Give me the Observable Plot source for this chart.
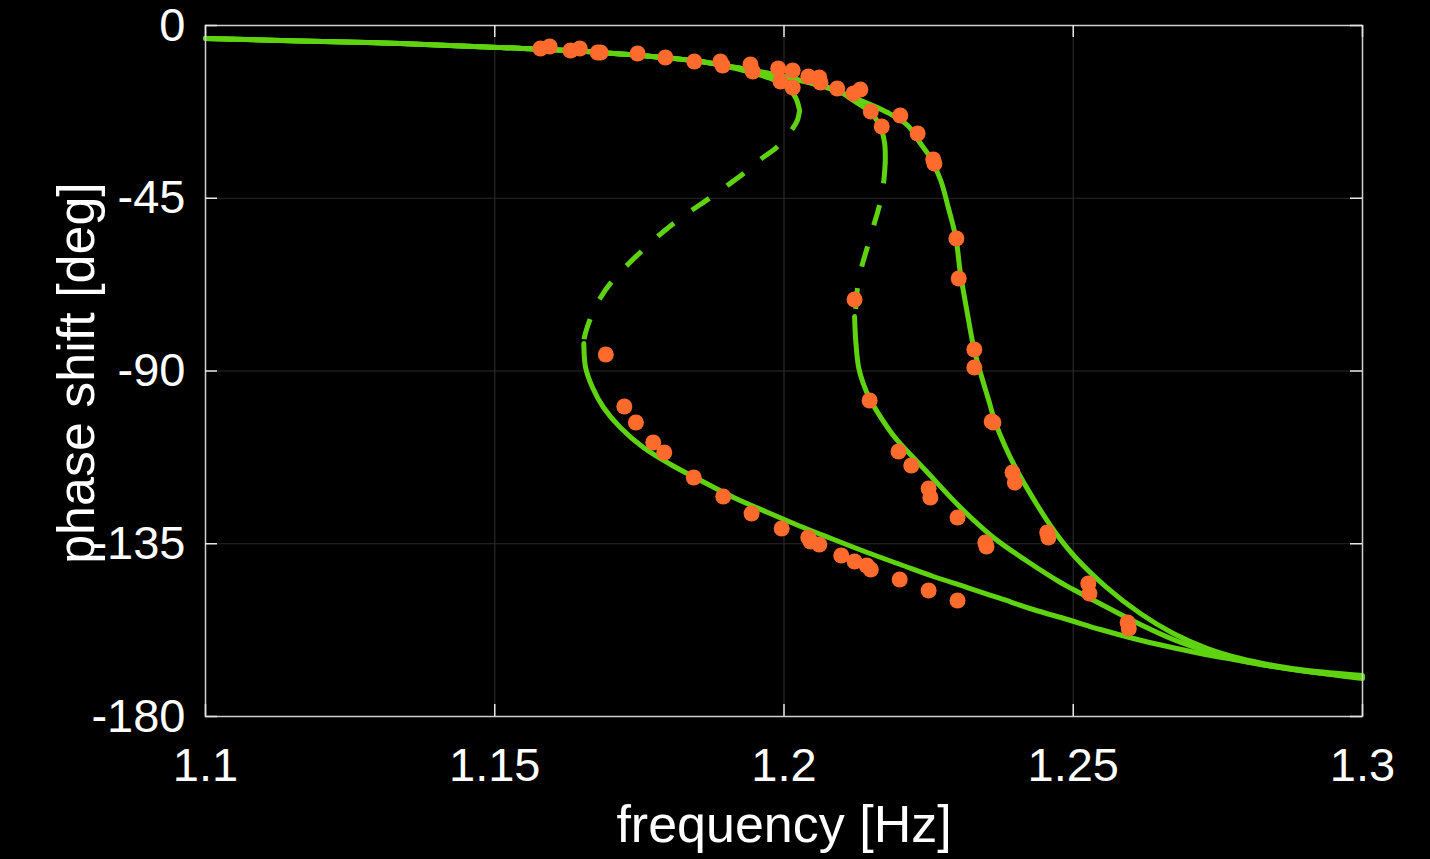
<!DOCTYPE html>
<html>
<head>
<meta charset="utf-8">
<script src="https://cdn.jsdelivr.net/npm/d3@7"></script>
<script src="https://cdn.jsdelivr.net/npm/@observablehq/plot@0.6"></script>
<style>
  html, body { margin: 0; padding: 0; background: #000; }
  #chart { width: 1430px; height: 859px; }
</style>
</head>
<body>
<div id="chart"></div>
<script>
// Phase response of a driven nonlinear oscillator at three forcing levels.
// Each model curve: [frequency (Hz), phase shift (deg)].

const xTicks = [1.1, 1.15, 1.2, 1.25, 1.3];
const yTicks = [0, -45, -90, -135, -180];

// Low-frequency part common to all three model curves
const commonStart = [
  [1.1000, -3.39], [1.1164, -4.04], [1.1337, -4.69], [1.1510, -5.73],
  [1.1683, -7.03], [1.1856, -9.38], [1.1890, -10.29]
];

// Curve 1 (strongest forcing): upper stable branch, unstable branch, lower stable branch
const curve1Upper = [
  [1.1937, -11.98], [1.1977, -13.81], [1.2006, -16.15], [1.2020, -18.76], [1.2027, -22.14]
];
const curve1Unstable = [
  [1.2027, -22.14], [1.2023, -24.75], [1.2015, -26.83], [1.1989, -31.52], [1.1959, -34.91],
  [1.1930, -38.55], [1.1902, -41.68], [1.1873, -44.80], [1.1809, -51.58], [1.1755, -58.61],
  [1.1704, -66.43], [1.1683, -70.85], [1.1666, -76.06], [1.1655, -81.27], [1.1654, -82.84]
];
const curve1Lower = [
  [1.1654, -82.84], [1.1657, -89.09], [1.1669, -94.30], [1.1688, -99.51], [1.1717, -104.72],
  [1.1757, -109.93], [1.1804, -114.36], [1.1856, -118.52], [1.1913, -122.95], [1.1972, -126.86],
  [1.2029, -130.51], [1.2086, -133.89], [1.2144, -137.28], [1.2201, -140.41], [1.2258, -143.53],
  [1.2317, -146.40], [1.2374, -149.26], [1.2431, -152.13], [1.2490, -154.73], [1.2547, -157.34],
  [1.2604, -159.68], [1.2663, -161.77], [1.2720, -163.59], [1.2777, -165.15], [1.2836, -166.71],
  [1.2893, -168.02], [1.3000, -170.10]
];

// Curve 2 (medium forcing)
const curve2Upper = [
  [1.1947, -11.72], [1.2006, -13.55], [1.2063, -15.63], [1.2093, -16.93], [1.2120, -19.54],
  [1.2150, -22.66], [1.2167, -26.57], [1.2174, -30.74], [1.2175, -35.69]
];
const curve2Unstable = [
  [1.2175, -35.69], [1.2172, -41.16], [1.2165, -46.89], [1.2155, -52.10], [1.2144, -57.83],
  [1.2134, -63.04], [1.2127, -68.51], [1.2124, -73.72], [1.2122, -75.80]
];
const curve2Lower = [
  [1.2122, -75.80], [1.2124, -82.06], [1.2129, -89.09], [1.2137, -93.26], [1.2148, -97.16],
  [1.2179, -104.72], [1.2196, -108.10], [1.2248, -116.44], [1.2305, -125.56], [1.2362, -133.37],
  [1.2421, -139.62], [1.2478, -145.09], [1.2500, -146.92], [1.2559, -151.61], [1.2616, -156.03],
  [1.2673, -159.94], [1.2732, -163.07], [1.2789, -165.41], [1.2846, -166.98], [1.2905, -168.28],
  [1.3000, -169.84]
];

// Curve 3 (weakest forcing, single valued)
const curve3 = [
  [1.1947, -11.72], [1.2006, -13.55], [1.2063, -15.63], [1.2120, -18.76], [1.2179, -22.66],
  [1.2214, -26.05], [1.2236, -30.74], [1.2253, -34.39], [1.2271, -40.38], [1.2284, -47.41],
  [1.2297, -55.23], [1.2305, -64.60], [1.2317, -75.02], [1.2328, -83.88], [1.2340, -90.65],
  [1.2354, -97.68], [1.2366, -103.68], [1.2400, -115.14], [1.2435, -124.25], [1.2469, -132.07],
  [1.2504, -138.58], [1.2556, -146.14], [1.2616, -153.17], [1.2673, -158.38], [1.2732, -162.29],
  [1.2789, -164.89], [1.2846, -166.71], [1.2905, -168.02], [1.3000, -169.32]
];

// Measured points
const measuredUpper = [
  [1.1579, -5.99], [1.1595, -5.47], [1.1631, -6.51], [1.1647, -5.99], [1.1678, -7.03],
  [1.1683, -7.03], [1.1747, -7.29], [1.1795, -8.34], [1.1845, -9.38], [1.1890, -9.38],
  [1.1894, -10.42], [1.1942, -10.16], [1.1946, -11.98], [1.1990, -11.20], [1.2015, -11.72],
  [1.1994, -14.59], [1.2015, -16.15], [1.2042, -13.29], [1.2061, -13.55], [1.2063, -14.85],
  [1.2092, -16.41], [1.2120, -17.71], [1.2132, -16.67], [1.2150, -22.40], [1.2169, -26.31],
  [1.2201, -23.44], [1.2231, -28.13], [1.2258, -34.91], [1.2260, -35.95], [1.2298, -55.48],
  [1.2302, -65.90], [1.2122, -71.37]
];
const measuredCurve1 = [
  [1.1692, -85.70], [1.1724, -99.25], [1.1744, -103.42], [1.1774, -108.63], [1.1793, -111.23],
  [1.1844, -117.74], [1.1895, -122.69], [1.1944, -127.12], [1.1996, -131.03], [1.2042, -133.37],
  [1.2046, -134.41], [1.2061, -135.20], [1.2099, -138.06], [1.2122, -139.62], [1.2143, -140.66],
  [1.2150, -141.71], [1.2200, -144.31], [1.2250, -147.18], [1.2300, -149.78]
];
const measuredCurve2 = [
  [1.2148, -97.68], [1.2198, -110.97], [1.2220, -114.62], [1.2250, -120.61], [1.2253, -122.95],
  [1.2300, -128.16], [1.2348, -134.67], [1.2350, -135.72]
];
const measuredCurve3 = [
  [1.2329, -84.40], [1.2329, -89.09], [1.2359, -103.15], [1.2362, -103.42], [1.2395, -116.44],
  [1.2399, -119.05], [1.2455, -132.07], [1.2457, -133.37], [1.2526, -145.35], [1.2528, -147.96],
  [1.2594, -155.51], [1.2596, -157.08]
];

const GREEN = "#5fd310";
const ORANGE = "#ff6b2c";
const FONT = "'Liberation Sans', Arial, Helvetica, sans-serif";

// Assemble branches into rows with a series key
const solidBranches = [
  {id: "c1u", pts: commonStart.concat(curve1Upper)},
  {id: "c1l", pts: curve1Lower},
  {id: "c2u", pts: commonStart.concat(curve2Upper)},
  {id: "c2l", pts: curve2Lower},
  {id: "c3", pts: commonStart.concat(curve3)}
];
const dashedBranches = [
  {id: "c1d", pts: curve1Unstable},
  {id: "c2d", pts: curve2Unstable}
];
const toRows = (branches) => branches.flatMap(b => b.pts.map(([f, p]) => ({id: b.id, f, p})));
const solidRows = toRows(solidBranches);
const dashedRows = toRows(dashedBranches);
const measured = [measuredUpper, measuredCurve1, measuredCurve2, measuredCurve3]
  .flat().map(([f, p]) => ({f, p}));

const W = 1430, H = 859;
const mL = 205, mR = 68, mT = 25, mB = 143;
const plotW = W - mL - mR, plotH = H - mT - mB;
const TICK = 12;

const chart = Plot.plot({
  width: W,
  height: H,
  marginLeft: mL,
  marginRight: mR,
  marginTop: mT,
  marginBottom: mB,
  style: {background: "#000", color: "#fff", fontFamily: FONT},
  x: {domain: [1.1, 1.3]},
  y: {domain: [-180, 0]},
  marks: [
    // grid
    Plot.ruleX(xTicks, {x: d => d, stroke: "#2a2a2a", strokeWidth: 1.2}),
    Plot.ruleY(yTicks, {y: d => d, stroke: "#2a2a2a", strokeWidth: 1.2}),
    // model curves
    Plot.line(solidRows, {x: "f", y: "p", z: "id", curve: "catmull-rom",
      stroke: GREEN, strokeWidth: 5, strokeLinejoin: "round"}),
    Plot.line(dashedRows, {x: "f", y: "p", z: "id", curve: "catmull-rom",
      stroke: GREEN, strokeWidth: 5, strokeDasharray: "21,22", strokeLinecap: "butt"}),
    // measurements
    Plot.dot(measured, {x: "f", y: "p", r: 8, fill: ORANGE, stroke: "none"}),
    // box and inward ticks on all four sides
    Plot.frame({stroke: "#cfcfcf", strokeWidth: 1.5}),
    Plot.ruleX(xTicks, {x: d => d, stroke: "#e6e6e6", strokeWidth: 1.5, insetTop: plotH - TICK}),
    Plot.ruleX(xTicks, {x: d => d, stroke: "#e6e6e6", strokeWidth: 1.5, insetBottom: plotH - TICK}),
    Plot.ruleY(yTicks, {y: d => d, stroke: "#e6e6e6", strokeWidth: 1.5, insetRight: plotW - TICK}),
    Plot.ruleY(yTicks, {y: d => d, stroke: "#e6e6e6", strokeWidth: 1.5, insetLeft: plotW - TICK}),
    // tick labels
    Plot.axisX(xTicks, {tickSize: 0, tickPadding: 31, fontSize: 47, fill: "#fff",
      tickFormat: d => String(d), label: null}),
    Plot.axisY(yTicks, {tickSize: 0, tickPadding: 20, fontSize: 47, fill: "#fff",
      tickFormat: d => String(d), label: null}),
    // axis titles
    Plot.text(["frequency [Hz]"], {text: d => d, frameAnchor: "bottom", dy: 109,
      textAnchor: "middle", lineAnchor: "middle", fontSize: 52, fill: "#fff"}),
    Plot.text(["phase shift [deg]"], {text: d => d, frameAnchor: "left", dx: -128, dy: 2,
      rotate: -90, textAnchor: "middle", lineAnchor: "middle", fontSize: 52, fill: "#fff"})
  ]
});

document.getElementById("chart").appendChild(chart);
</script>
</body>
</html>
